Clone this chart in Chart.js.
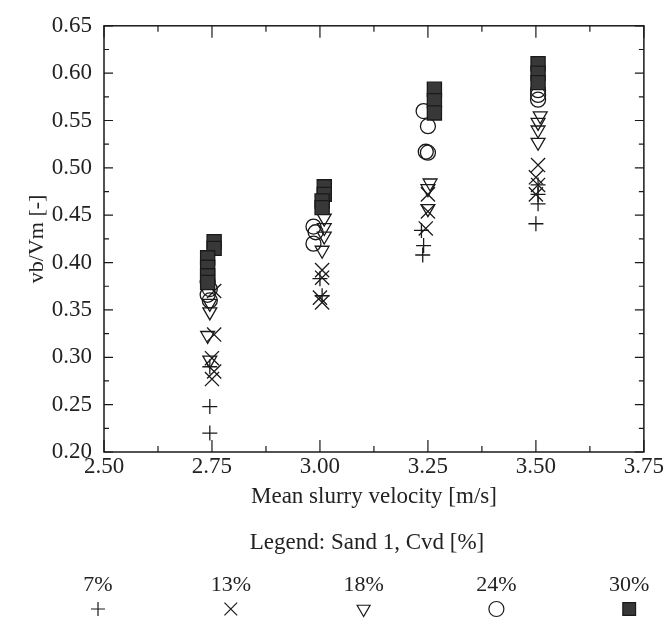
<!DOCTYPE html>
<html><head><meta charset="utf-8">
<script src="https://cdn.jsdelivr.net/npm/chart.js@4"></script>
<style>html,body{margin:0;padding:0;background:#fff}#wrap{width:665px;height:623px}</style>
</head><body><div id="wrap"><canvas id="c" width="665" height="623"></canvas></div>
<script>
// ---- data ----
const seriesLabels = ['7%', '13%', '18%', '24%', '30%'];
const legendTitle = 'Legend: Sand 1, Cvd [%]';
const xTickValues = [2.50, 2.75, 3.00, 3.25, 3.50, 3.75];
const yTickValues = [0.20, 0.25, 0.30, 0.35, 0.40, 0.45, 0.50, 0.55, 0.60, 0.65];

const cvd7X  = [2.745, 2.745, 2.745, 3.000, 3.005, 3.235, 3.240, 3.238, 3.505, 3.505, 3.505, 3.500];
const cvd7Y  = [0.290, 0.248, 0.220, 0.383, 0.365, 0.434, 0.418, 0.408, 0.482, 0.472, 0.462, 0.441];

const cvd13X = [2.755, 2.755, 2.750, 2.755, 2.750, 3.005, 3.005, 3.000, 3.005, 3.250, 3.250, 3.245, 3.505, 3.500, 3.505, 3.500];
const cvd13Y = [0.370, 0.324, 0.299, 0.285, 0.277, 0.392, 0.384, 0.363, 0.358, 0.472, 0.454, 0.436, 0.503, 0.490, 0.482, 0.472];

const cvd18X = [2.745, 2.745, 2.740, 2.745, 3.010, 3.010, 3.010, 3.005, 3.255, 3.250, 3.250, 3.510, 3.505, 3.505, 3.505];
const cvd18Y = [0.357, 0.348, 0.323, 0.297, 0.447, 0.437, 0.428, 0.413, 0.484, 0.478, 0.457, 0.555, 0.548, 0.540, 0.527];

const cvd24X = [2.740, 2.745, 2.740, 2.745, 2.985, 2.990, 2.985, 3.240, 3.250, 3.245, 3.250, 3.505, 3.505, 3.505];
const cvd24Y = [0.380, 0.372, 0.366, 0.360, 0.438, 0.432, 0.420, 0.560, 0.544, 0.517, 0.516, 0.582, 0.577, 0.572];

const cvd30X = [2.755, 2.755, 2.740, 2.740, 2.740, 2.740, 3.010, 3.010, 3.005, 3.005, 3.265, 3.265, 3.265, 3.505, 3.505, 3.505];
const cvd30Y = [0.422, 0.415, 0.405, 0.395, 0.386, 0.379, 0.480, 0.472, 0.465, 0.458, 0.583, 0.571, 0.558, 0.610, 0.600, 0.590];

// ---- build ----
const pts = (xs, ys) => xs.map((x, i) => ({x: x, y: ys[i]}));
const INK = '#1a1a1a';
const styles = [
  {pointStyle: 'cross',    radius: 7.5, rotation: 0,   bg: 'rgba(0,0,0,0)', order: 5},
  {pointStyle: 'crossRot', radius: 10,  rotation: 0,   bg: 'rgba(0,0,0,0)', order: 4},
  {pointStyle: 'triangle', radius: 8,   rotation: 180, bg: 'rgba(0,0,0,0)', order: 3},
  {pointStyle: 'circle',   radius: 7.5, rotation: 0,   bg: 'rgba(0,0,0,0)', order: 2},
  {pointStyle: 'rect',     radius: 10,  rotation: 0,   bg: '#383838',       order: 1}
];
const allData = [pts(cvd7X, cvd7Y), pts(cvd13X, cvd13Y), pts(cvd18X, cvd18Y), pts(cvd24X, cvd24Y), pts(cvd30X, cvd30Y)];

const datasets = seriesLabels.map((lab, i) => ({
  label: lab,
  data: allData[i],
  pointStyle: styles[i].pointStyle,
  pointRadius: styles[i].radius,
  pointHoverRadius: styles[i].radius,
  pointRotation: styles[i].rotation,
  pointBackgroundColor: styles[i].bg,
  pointBorderColor: INK,
  pointBorderWidth: 1.3,
  order: styles[i].order,
  showLine: false
}));

const FONT = 'Liberation Serif';
const FS = 23;

const frameTicks = {
  id: 'frameTicks',
  afterDatasetsDraw(chart) {
    const {ctx, chartArea: {left, right, top, bottom}, scales: {x, y}} = chart;
    ctx.save();
    ctx.strokeStyle = INK;
    ctx.lineWidth = 1.5;
    ctx.strokeRect(left, top, right - left, bottom - top);
    ctx.lineWidth = 1.2;
    const xMinor = [];
    for (let i = 0; i < xTickValues.length - 1; i++) xMinor.push((xTickValues[i] + xTickValues[i + 1]) / 2);
    const yMinor = [];
    for (let i = 0; i < yTickValues.length - 1; i++) yMinor.push((yTickValues[i] + yTickValues[i + 1]) / 2);
    ctx.beginPath();
    xTickValues.forEach(v => {
      const px = x.getPixelForValue(v);
      ctx.moveTo(px, bottom); ctx.lineTo(px, bottom - 12);
      ctx.moveTo(px, top); ctx.lineTo(px, top + 12);
    });
    xMinor.forEach(v => {
      const px = x.getPixelForValue(v);
      ctx.moveTo(px, bottom); ctx.lineTo(px, bottom - 6);
      ctx.moveTo(px, top); ctx.lineTo(px, top + 6);
    });
    yTickValues.forEach(v => {
      const py = y.getPixelForValue(v);
      ctx.moveTo(left, py); ctx.lineTo(left + 9, py);
      ctx.moveTo(right, py); ctx.lineTo(right - 9, py);
    });
    yMinor.forEach(v => {
      const py = y.getPixelForValue(v);
      ctx.moveTo(left, py); ctx.lineTo(left + 5, py);
      ctx.moveTo(right, py); ctx.lineTo(right - 5, py);
    });
    ctx.stroke();
    ctx.restore();
  }
};

const customLegend = {
  id: 'customLegend',
  afterDraw(chart) {
    const {ctx} = chart;
    ctx.save();
    ctx.fillStyle = '#222';
    ctx.font = FS + 'px "' + FONT + '"';
    ctx.textAlign = 'center';
    ctx.textBaseline = 'middle';
    ctx.fillText(legendTitle, 367, 543);
    ctx.font = '22px "' + FONT + '"';
    const legendSizes = [7, 9, 7.5, 7.5, 9];
    chart.data.datasets.forEach((ds, i) => {
      const cx = 98 + i * 132.8;
      ctx.fillStyle = '#222';
      ctx.fillText(ds.label, cx, 585);
      ctx.fillStyle = ds.pointBackgroundColor;
      ctx.strokeStyle = INK;
      ctx.lineWidth = 1.2;
      Chart.helpers.drawPoint(ctx, {
        pointStyle: ds.pointStyle,
        rotation: ds.pointRotation,
        radius: legendSizes[i],
        borderWidth: 1.2
      }, cx, 609);
    });
    ctx.restore();
  }
};

new Chart(document.getElementById('c'), {
  type: 'scatter',
  data: {datasets},
  options: {
    responsive: false,
    animation: false,
    devicePixelRatio: 1,
    layout: {padding: {top: 19, right: 18, bottom: 112, left: 0}},
    plugins: {legend: {display: false}, tooltip: {enabled: false}},
    scales: {
      x: {
        type: 'linear',
        min: 2.5, max: 3.75,
        afterBuildTicks: s => { s.ticks = xTickValues.map(v => ({value: v})); },
        afterFit: s => { s.height = 59; },
        grid: {display: false, drawTicks: false},
        border: {display: false},
        ticks: {
          padding: 1,
          color: '#222',
          font: {family: FONT, size: FS},
          maxRotation: 0,
          callback: v => Number(v).toFixed(2)
        },
        title: {display: true, text: 'Mean slurry velocity [m/s]', color: '#222',
                font: {family: FONT, size: FS}, padding: {top: 0, bottom: 0}}
      },
      y: {
        type: 'linear',
        min: 0.2, max: 0.65,
        afterBuildTicks: s => { s.ticks = yTickValues.map(v => ({value: v})); },
        afterFit: s => { s.width = 104; },
        grid: {display: false, drawTicks: false},
        border: {display: false},
        ticks: {
          padding: 12,
          color: '#222',
          font: {family: FONT, size: FS},
          callback: v => Number(v).toFixed(2)
        },
        title: {display: true, text: 'vb/Vm [-]', color: '#222',
                font: {family: FONT, size: 22}, padding: {top: 24, bottom: 0}}
      }
    }
  },
  plugins: [frameTicks, customLegend]
});
</script>
</body></html>
